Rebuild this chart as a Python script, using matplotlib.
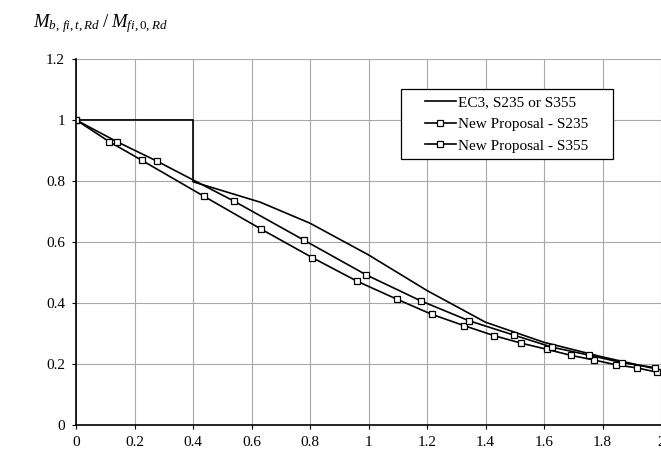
import matplotlib
matplotlib.use('Agg')
import matplotlib.pyplot as plt
from matplotlib.patches import Rectangle

plt.rcParams['font.family'] = 'Liberation Serif'
plt.rcParams['mathtext.fontset'] = 'custom'
plt.rcParams['mathtext.rm'] = 'Liberation Serif'
plt.rcParams['mathtext.it'] = 'Liberation Serif:italic'

# EC3 curve
ec3_x = [0, 0.4, 0.4, 0.63, 0.8, 1.0, 1.2, 1.4, 1.6, 1.8, 2.0]
ec3_y = [1.0, 1.0, 0.797, 0.730, 0.661, 0.557, 0.44, 0.336, 0.27, 0.222, 0.179]

# New proposal - S235 (lower curve)
s235_x = [0, 0.113, 0.224, 0.438, 0.634, 0.808, 0.960, 1.096, 1.216, 1.326,
          1.429, 1.523, 1.610, 1.693, 1.771, 1.847, 1.918, 1.987]
s235_y = [1.0, 0.929, 0.868, 0.749, 0.641, 0.548, 0.471, 0.412, 0.362, 0.325,
          0.292, 0.267, 0.247, 0.227, 0.212, 0.196, 0.186, 0.172]

# New proposal - S355 (upper curve)
s355_x = [0, 0.139, 0.276, 0.541, 0.780, 0.993, 1.179, 1.343, 1.496, 1.628,
          1.754, 1.868, 1.978]
s355_y = [1.0, 0.929, 0.865, 0.733, 0.605, 0.491, 0.406, 0.341, 0.294, 0.254,
          0.228, 0.203, 0.187]

xticks = [0, 0.2, 0.4, 0.6, 0.8, 1, 1.2, 1.4, 1.6, 1.8, 2]
yticks = [0, 0.2, 0.4, 0.6, 0.8, 1, 1.2]

W, H = 661, 461
fig = plt.figure(figsize=(W / 100, H / 100), dpi=100)
ax = fig.add_axes([0.115, 0.079, 0.885, 0.793])

ax.plot(ec3_x, ec3_y, color='black', lw=1.2, label='EC3, S235 or S355')
ax.plot(s235_x, s235_y, color='black', lw=1.2, marker='s', ms=5,
        mfc='white', mec='black', mew=0.9, label='New Proposal - S235')
ax.plot(s355_x, s355_y, color='black', lw=1.2, marker='s', ms=4.5,
        mfc='white', mec='black', mew=0.9, label='New Proposal - S355')

ax.set_xlim(0, 2)
ax.set_ylim(0, 1.2)
ax.set_xticks(xticks)
ax.set_xticklabels([f'{t:g}' for t in xticks])
ax.set_yticks(yticks)
ax.set_yticklabels([f'{t:g}' for t in yticks])
ax.grid(True, color='#a8a8a8', lw=0.8)
ax.set_axisbelow(True)
for side in ['top', 'right']:
    ax.spines[side].set_visible(False)
ax.spines['left'].set_linewidth(1.2)
ax.spines['bottom'].set_linewidth(1.2)
ax.tick_params(direction='out', length=3, width=0.8, labelsize=11, pad=5)

# legend box (Excel style: wide side padding)
x0, y0, x1, y1 = 400.7, 89.3, 612.7, 159.0
box = Rectangle((x0 / W, 1 - y1 / H), (x1 - x0) / W, (y1 - y0) / H,
                transform=fig.transFigure, facecolor='white',
                edgecolor='black', lw=0.9, zorder=4, clip_on=False)
ax.add_patch(box)
leg = ax.legend(loc='center', bbox_to_anchor=((x0 + x1) / 2 / W, 1 - (y0 + y1) / 2 / H),
                bbox_transform=fig.transFigure, fontsize=11, frameon=False,
                handlelength=2.0, handletextpad=0.15, borderpad=0.2,
                labelspacing=0.52)
leg.set_zorder(5)

fig.text(0.05, 0.948, r'$M_{b,\,fi,t,Rd}\;/\;M_{fi,0,Rd}$', fontsize=13.5,
         ha='left', va='center')

fig.savefig('out.png', dpi=100)
